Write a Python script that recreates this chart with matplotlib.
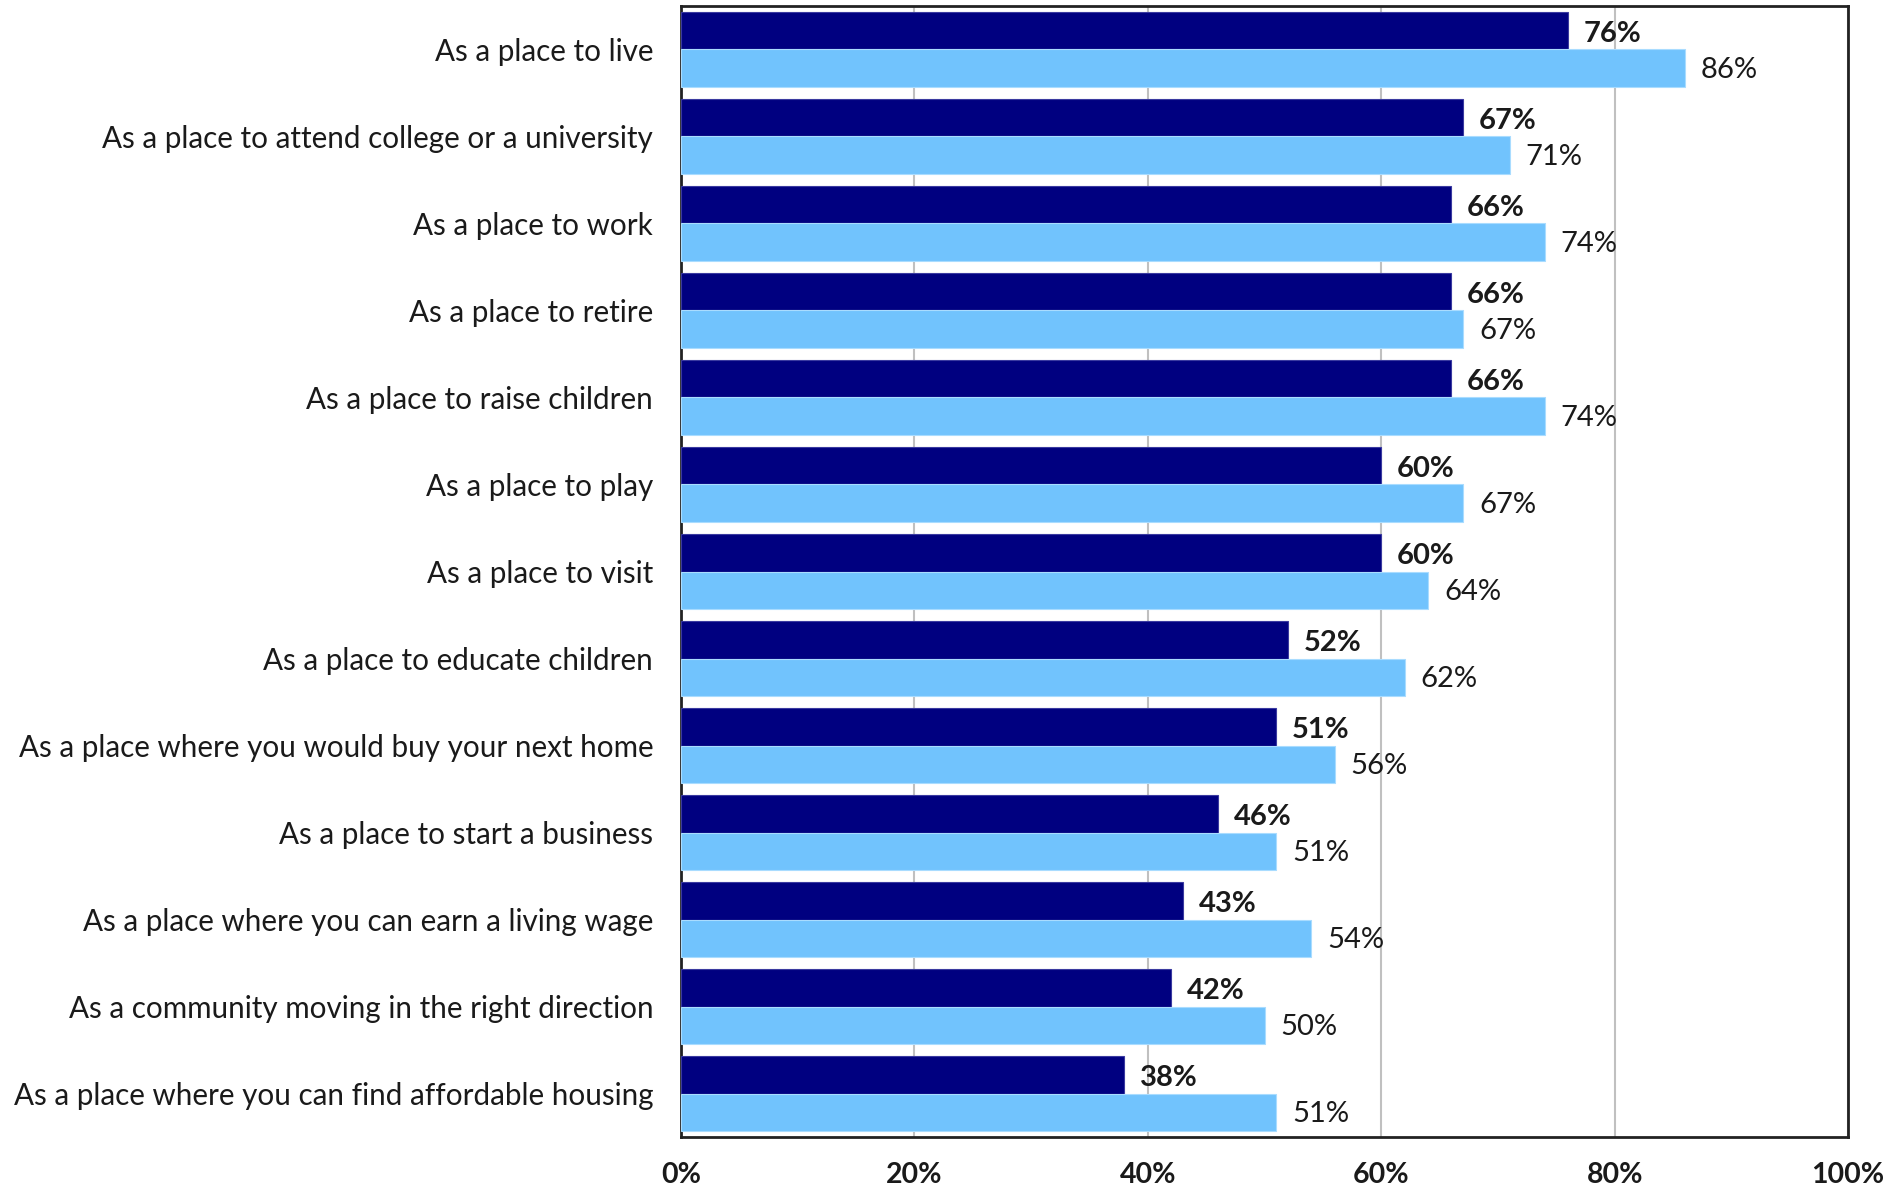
import numpy as np
import matplotlib.pyplot as plt
from matplotlib.ticker import PercentFormatter

# 数据
categories = [
    "As a place to live",
    "As a place to attend college or a university",
    "As a place to work",
    "As a place to retire",
    "As a place to raise children",
    "As a place to play",
    "As a place to visit",
    "As a place to educate children",
    "As a place where you would buy your next home",
    "As a place to start a business",
    "As a place where you can earn a living wage",
    "As a community moving in the right direction",
    "As a place where you can find affordable housing",
]
dark_vals = [76, 67, 66, 66, 66, 60, 60, 52, 51, 46, 43, 42, 38]
light_vals = [86, 71, 74, 67, 74, 67, 64, 62, 56, 51, 54, 50, 51]

plt.rcParams['font.family'] = ['Lato', 'DejaVu Sans']

fig = plt.figure(figsize=(18.9, 11.91), dpi=100)
ax = fig.add_axes([0.3603, 0.0453, 0.6175, 0.9497])

y = np.arange(len(categories))
h = 0.43
dark = '#000080'
light = '#71C3FD'

ax.barh(y - h / 2, dark_vals, height=h, color=dark, edgecolor='#3a3aa0', linewidth=0.8, zorder=3)
ax.barh(y + h / 2, light_vals, height=h, color=light, edgecolor='#a9dcff', linewidth=0.8, zorder=3)

# 数值标签
for i in range(len(categories)):
    ax.annotate(f"{dark_vals[i]}%", (dark_vals[i], y[i] - h / 2), xytext=(16, -3),
                textcoords='offset pixels', va='center', ha='left',
                fontsize=21, fontweight='bold', color='#1a1a1a')
    ax.annotate(f"{light_vals[i]}%", (light_vals[i], y[i] + h / 2), xytext=(16, -2),
                textcoords='offset pixels', va='center', ha='left',
                fontsize=21, color='#1a1a1a')

ax.set_xlim(0, 100)
ax.set_ylim(len(categories) - 0.5, -0.5)
ax.set_xticks([0, 20, 40, 60, 80, 100])
ax.xaxis.set_major_formatter(PercentFormatter(decimals=0))
ax.set_yticks(y)
ax.set_yticklabels(categories, fontsize=21.3, color='#1a1a1a')
ax.tick_params(axis='y', length=0, pad=20)
ax.tick_params(axis='x', length=0, pad=18, labelsize=20.5, labelcolor='#1a1a1a')
for lab in ax.get_xticklabels():
    lab.set_fontweight('bold')

ax.grid(axis='x', color='#c0c0c0', linewidth=1.5, zorder=0)
ax.set_axisbelow(True)
for s in ax.spines.values():
    s.set_linewidth(2)
    s.set_color('#222222')

fig.savefig("out.png", dpi=100)
